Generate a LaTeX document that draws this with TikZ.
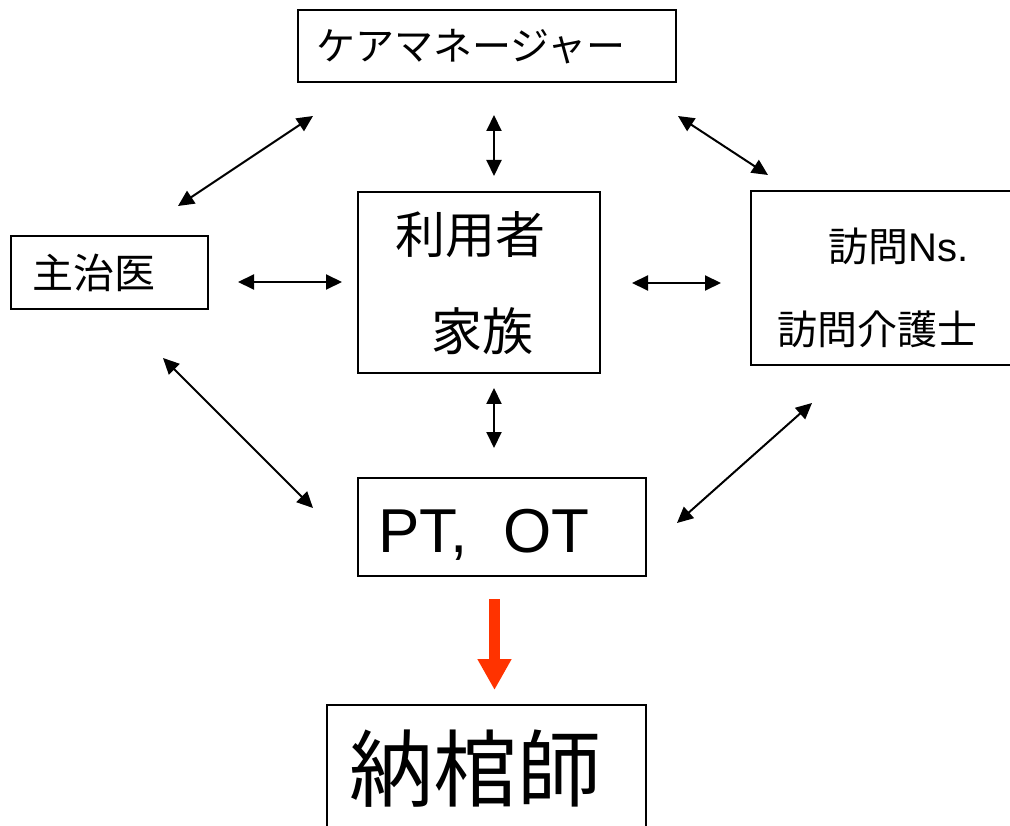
\documentclass[tikz,border=0pt]{standalone}
\usepackage{fontspec}
\setmainfont{Liberation Sans}
\newfontfamily\jp{Noto Sans CJK JP}
\usetikzlibrary{arrows.meta}
\definecolor{arrowred}{RGB}{255,51,0}
\tikzset{
  box/.style={draw=black, line width=1.5pt, inner sep=0pt, outer sep=0pt},
  lbl/.style={inner sep=0pt, outer sep=0pt, anchor=center, text=black},
  dbl/.style={line width=2pt, {Triangle[length=16pt,width=15pt]}-{Triangle[length=16pt,width=15pt]}},
  bigarrow/.style={draw=arrowred, line width=11pt, -{Triangle[length=31pt,width=32pt]}, arrowred},
}
\begin{document}
\begin{tikzpicture}[x=1pt,y=-1pt]
\useasboundingbox (0,0) rectangle (1010,826);
\clip (0,0) rectangle (1010,826);
\fill[white] (0,0) rectangle (1010,826);
% boxes
\node[box, minimum width=378pt, minimum height=72pt] (cm) at (487,46) {};
\node[box, minimum width=197pt, minimum height=73pt] (doc) at (109.5,272.5) {};
\node[box, minimum width=242pt, minimum height=181pt] (user) at (479,282.5) {};
\node[box, minimum width=269pt, minimum height=174pt] (visit) at (885.5,278) {};
\node[box, minimum width=288pt, minimum height=98pt] (pt) at (502,527) {};
\node[box, minimum width=319pt, minimum height=145pt] (nk) at (486.5,777.5) {};
% labels
\node[lbl, font=\jp\fontsize{39}{41}\selectfont] (cmt) at (471,47) {ケアマネージャー};
\node[lbl, font=\jp\fontsize{41}{43}\selectfont] (doct) at (94,272.5) {主治医};
\node[lbl, font=\jp\fontsize{50}{52}\selectfont] (usert1) at (470,235) {利用者};
\node[lbl, font=\jp\fontsize{51}{53}\selectfont] (usert2) at (482,331.5) {家族};
\node[lbl, font=\fontsize{40}{42}\selectfont] (visitt1) at (898.5,246.5) {{\jp 訪問}Ns.};
\node[lbl, font=\jp\fontsize{40}{42}\selectfont] (visitt2) at (877,329.5) {訪問介護士};
\node[lbl, anchor=base west, font=\fontsize{62}{64}\selectfont] (ptt) at (378,552) {PT,\hspace{0.3em} OT};
\node[lbl, font=\jp\fontsize{84}{86}\selectfont] (nkt) at (475,768.5) {納棺師};
% arrow end points
\coordinate (a1s) at (178,206); \coordinate (a1e) at (313,116);
\coordinate (a2s) at (494,115); \coordinate (a2e) at (494,176);
\coordinate (a3s) at (678,116); \coordinate (a3e) at (768,175);
\coordinate (a4s) at (238,282); \coordinate (a4e) at (342,282);
\coordinate (a5s) at (632,283); \coordinate (a5e) at (721,283);
\coordinate (a6s) at (163,358); \coordinate (a6e) at (313,508);
\coordinate (a7s) at (494,388); \coordinate (a7e) at (494,448);
\coordinate (a8s) at (812,403); \coordinate (a8e) at (677,523);
\coordinate (rs) at (494.5,599); \coordinate (re) at (494.5,690);
% connectors
\draw[dbl] (a1s) -- (a1e);
\draw[dbl] (a2s) -- (a2e);
\draw[dbl] (a3s) -- (a3e);
\draw[dbl] (a4s) -- (a4e);
\draw[dbl] (a5s) -- (a5e);
\draw[dbl] (a6s) -- (a6e);
\draw[dbl] (a7s) -- (a7e);
\draw[dbl] (a8s) -- (a8e);
\draw[bigarrow] (rs) -- (re);
\end{tikzpicture}
\end{document}
